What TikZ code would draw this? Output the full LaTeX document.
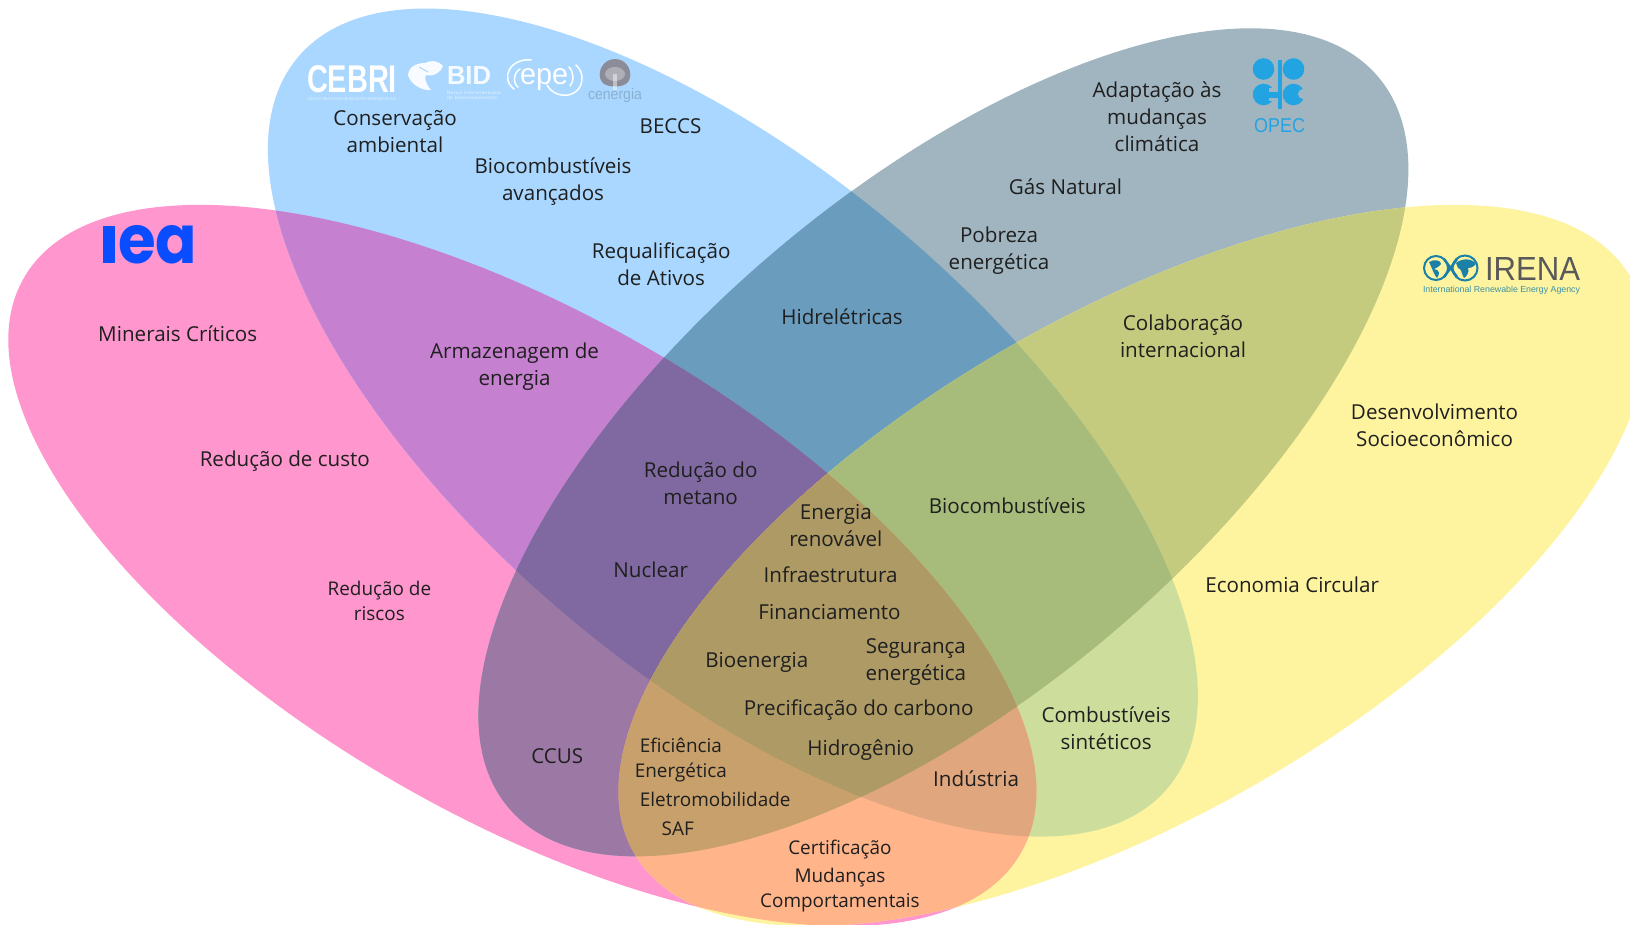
\documentclass[tikz,border=0pt]{standalone}
\usepackage{fontspec}
\setmainfont{Open Sans}
\newfontfamily\logofont{Liberation Sans}
\newfontfamily\popfont{Poppins}
\usepackage{graphicx}
\def\eP{(502.5,544) ellipse [x radius=575.5pt,y radius=251pt,rotate=-30]}
\def\eY{(1089.5,544) ellipse [x radius=575.5pt,y radius=251pt,rotate=30]}
\def\eB{(705,406.5) ellipse [x radius=568pt,y radius=254.6pt,rotate=-40]}
\def\eG{(907.5,425.5) ellipse [x radius=568pt,y radius=254.6pt,rotate=40]}
\newcommand\paintone[1]{\fill[#1] (-10,-10) rectangle (1600,900);}
\definecolor{cP}{HTML}{FF96CE}
\definecolor{cB}{HTML}{A9D7FF}
\definecolor{cG}{HTML}{A0B5C0}
\definecolor{cY}{HTML}{FEF4A0}
\definecolor{cPB}{HTML}{C680D0}
\definecolor{cBG}{HTML}{6A9CBE}
\definecolor{cGY}{HTML}{C5CB7E}
\definecolor{cBY}{HTML}{CDDE9C}
\definecolor{cPG}{HTML}{9C79A5}
\definecolor{cPY}{HTML}{FFB48A}
\definecolor{cPBG}{HTML}{7F69A0}
\definecolor{cBGY}{HTML}{A7BC7A}
\definecolor{cPBY}{HTML}{E0A67E}
\definecolor{cPGY}{HTML}{C7A06C}
\definecolor{cAll}{HTML}{AE9A65}
\definecolor{cOpec}{HTML}{22A4E2}
\definecolor{cIea}{HTML}{0A4CFF}
\definecolor{cIrena}{HTML}{1A80A8}
\definecolor{cCen}{HTML}{8C8C98}
\tikzset{
 lab/.style={align=center,inner sep=0pt,text=black!88,font=\fontsize{20.6}{27}\selectfont},
 labs/.style={align=center,inner sep=0pt,text=black!88,font=\fontsize{18.9}{25}\selectfont},
 logo/.style={inner sep=0pt,outer sep=0pt},
 wline/.style={draw=white,line width=1.5pt,line cap=round}
}
\begin{document}
\begin{tikzpicture}[x=1.03954pt,y=-1.03954pt]
\path[use as bounding box,fill=white] (0,0) rectangle (1568,888.9);
\begin{scope}
\clip (0,0) rectangle (1568,888.9);
\fill[cP] \eP; \fill[cB] \eB; \fill[cG] \eG; \fill[cY] \eY;
\begin{scope}\clip \eP; \clip \eB; \paintone{cPB}\end{scope}
\begin{scope}\clip \eB; \clip \eG; \paintone{cBG}\end{scope}
\begin{scope}\clip \eG; \clip \eY; \paintone{cGY}\end{scope}
\begin{scope}\clip \eB; \clip \eY; \paintone{cBY}\end{scope}
\begin{scope}\clip \eP; \clip \eG; \paintone{cPG}\end{scope}
\begin{scope}\clip \eP; \clip \eY; \paintone{cPY}\end{scope}
\begin{scope}\clip \eP; \clip \eB; \clip \eG; \paintone{cPBG}\end{scope}
\begin{scope}\clip \eB; \clip \eG; \clip \eY; \paintone{cBGY}\end{scope}
\begin{scope}\clip \eP; \clip \eB; \clip \eY; \paintone{cPBY}\end{scope}
\begin{scope}\clip \eP; \clip \eG; \clip \eY; \paintone{cPGY}\end{scope}
\begin{scope}\clip \eP; \clip \eB; \clip \eG; \clip \eY; \paintone{cAll}\end{scope}
\end{scope}
% labels
\node[lab] (n1) at (380,127) {Conservação\\ambiental};
\node[lab] (n2) at (645,121.5) {BECCS};
\node[lab] (n3) at (532,175) {Biocombustíveis\\avançados};
\node[lab] (n4) at (636,254) {Requalificação\\de Ativos};
\node[lab] (n5) at (1113,112) {Adaptação às\\mudanças\\climática};
\node[lab] (n6) at (1025,179.5) {Gás Natural};
\node[lab] (n7) at (961,241) {Pobreza\\energética};
\node[lab] (n8) at (810,304.5) {Hidrelétricas};
\node[lab] (n9) at (1138,323.5) {Colaboração\\internacional};
\node[lab] (n10) at (1380,409) {Desenvolvimento\\Socioeconômico};
\node[lab] (n11) at (171,321) {Minerais Críticos};
\node[lab] (n12) at (495,353) {Armazenagem de\\energia};
\node[lab] (n13) at (274,444) {Redução de custo};
\node[lab] (n14) at (674,465) {Redução do\\metano};
\node[lab] (n15) at (804,506) {Energia\\renovável};
\node[lab] (n16) at (969,486.5) {Biocombustíveis};
\node[lab] (n17) at (626,548) {Nuclear};
\node[lab] (n18) at (799,553) {Infraestrutura};
\node[lab] (n19) at (1243,563) {Economia Circular};
\node[labs] (n20) at (365,578) {Redução de\\riscos};
\node[lab] (n21) at (798,589) {Financiamento};
\node[lab] (n22) at (728,637) {Bioenergia};
\node[lab] (n23) at (881,637) {Segurança\\energética};
\node[lab] (n24) at (826,683) {Precificação do carbono};
\node[lab] (n25) at (1064,700.5) {Combustíveis\\sintéticos};
\node[lab] (n26) at (536,727) {CCUS};
\node[lab] (n27) at (828,722) {Hidrogênio};
\node[labs] (n28) at (655,731) {Eficiência\\Energética};
\node[lab] (n29) at (939,749) {Indústria};
\node[labs] (n30) at (688,769) {Eletromobilidade};
\node[labs] (n31) at (652,797.5) {SAF};
\node[labs] (n32) at (808,817.5) {Certificação};
\node[labs] (n33) at (808,856) {Mudanças\\Comportamentais};
% logos, in pixel coordinates of the full picture
\begin{scope}[x=1pt,y=-1pt]
% IEA
\fill[cIea] (103,226) rectangle (115,263);
\node[logo,anchor=west,text=cIea] (iea) at (118,244.5) {\resizebox{79pt}{38pt}{\popfont\bfseries ea}};
% CEBRI
\node[logo,text=white,anchor=west] (cebri) at (307,79) {\resizebox{90pt}{27pt}{\logofont\bfseries CEBRI}};
\node[logo,text=white,opacity=.7] (cebris) at (352,99.5) {\resizebox{88pt}{3.5pt}{\logofont CENTRO BRASILEIRO DE RELAÇÕES INTERNACIONAIS}};
% BID
\fill[white,opacity=.92] (425,63) .. controls (413,63) and (408,70) .. (408,75) .. controls (410,84) and (422,91) .. (431,90) .. controls (426,84) and (424,78) .. (426,75) .. controls (434,77) and (441,72) .. (443,66) .. controls (437,60) and (431,60) .. (425,63) -- cycle;
\draw[cB,line width=1pt] (419,67) -- (428,72);
\node[logo,text=white,anchor=west,opacity=.9] (bid) at (447,75) {\resizebox{44pt}{18pt}{\logofont\bfseries BID}};
\node[logo,text=white,anchor=west,opacity=.65,align=left] (bids) at (447,95.5) {\resizebox{54pt}{8pt}{\shortstack[l]{\logofont Banco Interamericano\\\logofont de Desenvolvimento}}};
% EPE
\draw[wline] (531,60) .. controls (510,58) and (500,78) .. (514,89);
\draw[wline] (520,69) .. controls (513,73) and (513,84) .. (518,87);
\draw[wline] (547,85) .. controls (556,101) and (582,98) .. (582,78) .. controls (582,73) and (580,69) .. (576,65);
\draw[wline] (569,67) .. controls (574,72) and (574,82) .. (570,86);
\node[logo,text=white] (epe) at (544,80) {\resizebox{48pt}{16pt}{\logofont epe}};
% cenergia
\fill[cCen] (615,59) .. controls (628,59) and (634,74) .. (628,82) .. controls (624,88) and (606,88) .. (602,82) .. controls (596,74) and (602,59) .. (615,59) -- cycle;
\fill[white,opacity=.3] (615,74) ellipse (10 and 7);
\fill[white,opacity=.45] (613,74) rectangle (617,90);
\node[logo,text=black!18!cB] (cen) at (615,96) {\resizebox{54pt}{11pt}{\logofont cenergia}};
% OPEC
\fill[cOpec] (1263.5,69) circle (10.8);
\fill[cOpec] (1293.5,69) circle (10.8);
\fill[cOpec] (1263.5,94.5) circle (10.8);
\fill[cOpec] (1293.5,94.5) circle (10.8);
\fill[cG] (1269,88) rectangle (1276,92);
\fill[cG] (1269,97.5) rectangle (1276,101);
\fill[cOpec] (1268,92) rectangle (1278,97.5);
\fill[cG] (1303,94) circle (5);
\fill[cOpec] (1277.5,60) rectangle (1282,109);
\node[logo,text=cOpec] (opec) at (1279.5,125.5) {\resizebox{51pt}{14pt}{\logofont OPEC}};
% IRENA
\draw[cIrena,line width=2pt] (1436,268) circle (12);
\draw[cIrena,line width=2pt] (1465,268) circle (12.5);
\draw[cIrena,line width=2.5pt] (1444,277) -- (1457,259);
\draw[cIrena,line width=2.5pt] (1444,259) -- (1457,277);
\fill[cIrena] (1429,262) .. controls (1434,259) and (1441,260) .. (1441,264) .. controls (1438,268) and (1435,268) .. (1434,269) .. controls (1440,270) and (1440,274) .. (1437,278) .. controls (1434,275) and (1433,270) .. (1429,262) -- cycle;
\fill[cIrena] (1456,263) .. controls (1462,258) and (1472,258) .. (1476,264) .. controls (1472,268) and (1470,268) .. (1468,268) .. controls (1470,272) and (1466,277) .. (1464,278) .. controls (1461,273) and (1462,269) .. (1458,268) -- cycle;
\node[logo,text=black!65,anchor=west] (irena) at (1485,268.5) {\resizebox{95pt}{23pt}{\logofont IRENA}};
\node[logo,text=cIrena,anchor=west,opacity=.85] (irenas) at (1423,290) {\resizebox{157pt}{!}{\logofont International Renewable Energy Agency}};
\end{scope}
\end{tikzpicture}
\end{document}
